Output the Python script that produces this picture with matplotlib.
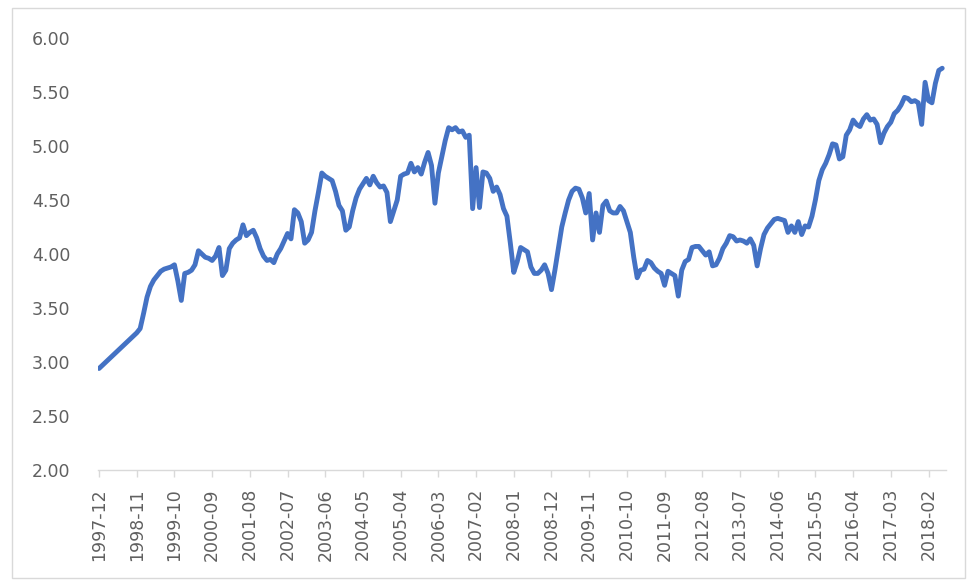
import numpy as np
import pandas as pd
import matplotlib
matplotlib.use('Agg')
import matplotlib.pyplot as plt
from matplotlib.patches import Rectangle

# Maandwaarden (start 1997-12)
v1997 = [2.94]
v1998 = [2.97, 3.00, 3.03, 3.06, 3.09, 3.12, 3.15, 3.18, 3.21, 3.24, 3.27, 3.31]
v1999 = [3.45, 3.60, 3.70, 3.76, 3.80, 3.84, 3.86, 3.87, 3.88, 3.90, 3.75, 3.57]
v2000 = [3.82, 3.83, 3.85, 3.90, 4.03, 4.00, 3.97, 3.96, 3.94, 3.98, 4.06, 3.80]
v2001 = [3.85, 4.05, 4.10, 4.13, 4.15, 4.27, 4.17, 4.20, 4.22, 4.15, 4.05, 3.98]
v2002 = [3.94, 3.95, 3.92, 4.00, 4.05, 4.12, 4.19, 4.14, 4.41, 4.38, 4.30, 4.10]
v2003 = [4.13, 4.20, 4.40, 4.57, 4.75, 4.72, 4.70, 4.68, 4.58, 4.45, 4.40, 4.22]
v2004 = [4.25, 4.40, 4.52, 4.60, 4.65, 4.70, 4.64, 4.72, 4.66, 4.62, 4.63, 4.57]
v2005 = [4.30, 4.40, 4.50, 4.72, 4.74, 4.75, 4.84, 4.76, 4.80, 4.74, 4.85, 4.94]
v2006 = [4.82, 4.47, 4.75, 4.90, 5.05, 5.17, 5.15, 5.17, 5.13, 5.14, 5.08, 5.10]
v2007 = [4.42, 4.80, 4.43, 4.76, 4.75, 4.70, 4.58, 4.62, 4.55, 4.42, 4.35, 4.10]
v2008 = [3.83, 3.93, 4.06, 4.04, 4.02, 3.88, 3.82, 3.82, 3.85, 3.90, 3.82, 3.67]
v2009 = [3.85, 4.05, 4.25, 4.38, 4.50, 4.58, 4.61, 4.60, 4.52, 4.38, 4.56, 4.13]
v2010 = [4.38, 4.20, 4.45, 4.49, 4.40, 4.38, 4.38, 4.44, 4.40, 4.30, 4.20, 3.97]
v2011 = [3.78, 3.85, 3.86, 3.94, 3.92, 3.87, 3.84, 3.82, 3.71, 3.84, 3.82, 3.80]
v2012 = [3.61, 3.85, 3.93, 3.95, 4.06, 4.07, 4.07, 4.03, 3.99, 4.02, 3.89, 3.90]
v2013 = [3.96, 4.05, 4.10, 4.17, 4.16, 4.12, 4.13, 4.12, 4.10, 4.14, 4.08, 3.89]
v2014 = [4.05, 4.18, 4.24, 4.28, 4.32, 4.33, 4.32, 4.31, 4.20, 4.26, 4.20, 4.30]
v2015 = [4.18, 4.26, 4.25, 4.35, 4.50, 4.68, 4.78, 4.84, 4.92, 5.02, 5.01, 4.88]
v2016 = [4.90, 5.10, 5.15, 5.24, 5.20, 5.18, 5.25, 5.29, 5.24, 5.25, 5.20, 5.03]
v2017 = [5.12, 5.18, 5.22, 5.30, 5.33, 5.38, 5.45, 5.44, 5.41, 5.42, 5.40, 5.20]
v2018 = [5.59, 5.42, 5.40, 5.58, 5.70, 5.72]

waarden = (v1997 + v1998 + v1999 + v2000 + v2001 + v2002 + v2003 + v2004 + v2005
           + v2006 + v2007 + v2008 + v2009 + v2010 + v2011 + v2012 + v2013 + v2014
           + v2015 + v2016 + v2017 + v2018)
maanden = pd.period_range('1997-12', periods=len(waarden), freq='M').strftime('%Y-%m').tolist()

y_ticks = [2.0, 2.5, 3.0, 3.5, 4.0, 4.5, 5.0, 5.5, 6.0]

grijs = '#606060'
lijn = '#D9D9D9'

fig = plt.figure(figsize=(9.73, 5.81), dpi=100)
ax = fig.add_axes([98 / 973, 1 - 470 / 581, (946 - 98) / 973, (470 - 38) / 581])

x = np.arange(len(waarden))
ax.plot(x, waarden, color='#4472C4', linewidth=3.5, solid_joinstyle='round', solid_capstyle='round')

ax.set_ylim(2.0, 6.0)
ax.set_yticks(y_ticks)
ax.set_yticklabels([f"{t:.2f}" for t in y_ticks])
ax.set_xlim(-0.3, len(waarden) + 0.1)

tick_pos = x[::11]
ax.set_xticks(tick_pos)
ax.set_xticklabels([maanden[i] for i in tick_pos], rotation=90)

for kant in ['top', 'right', 'left']:
    ax.spines[kant].set_visible(False)
ax.spines['bottom'].set_color(lijn)
ax.spines['bottom'].set_linewidth(1.0)

ax.tick_params(axis='y', length=0, pad=20, labelsize=12.5, labelcolor=grijs)
ax.tick_params(axis='x', length=5, width=1.0, color=lijn, pad=8, labelsize=12.5, labelcolor=grijs)

# Rand rond het grafiekgebied
fig.patches.append(Rectangle((12 / 973, 3 / 581), (965 - 12) / 973, (573 - 3) / 581,
                             transform=fig.transFigure, fill=False, edgecolor=lijn, linewidth=1.0))

plt.savefig('out.png', dpi=100)
